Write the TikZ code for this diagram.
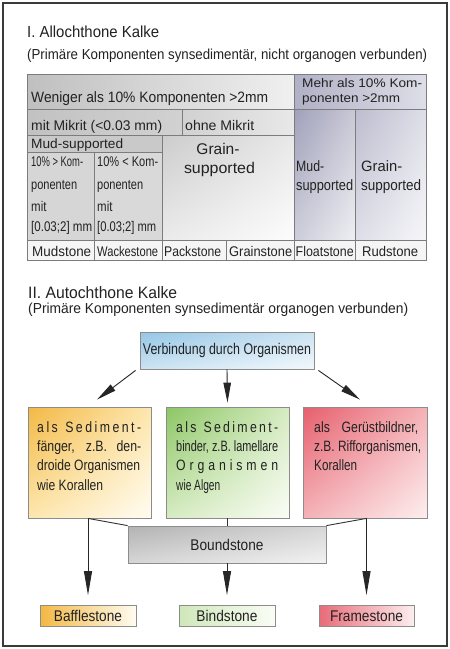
\documentclass[tikz,border=0pt]{standalone}
\usepackage{fontspec}
\setmainfont{Liberation Sans}
\newfontfamily\nar[FakeStretch=0.82]{Liberation Sans}
\usetikzlibrary{arrows.meta,shadings}
\definecolor{txtc}{HTML}{222222}
\definecolor{gridc}{HTML}{7C7C7C}
\definecolor{frm}{HTML}{3A3A3A}
\definecolor{bord}{HTML}{8C8C8C}
\definecolor{orA}{HTML}{F3B844}
\definecolor{orB}{HTML}{FDE7AE}
\definecolor{orC}{HTML}{FFFCF2}
\definecolor{grA}{HTML}{8CC664}
\definecolor{grB}{HTML}{D6EBC2}
\definecolor{grC}{HTML}{FAFDF6}
\definecolor{rdA}{HTML}{E65F6D}
\definecolor{rdB}{HTML}{F4B2B7}
\definecolor{rdC}{HTML}{FDEEEF}
\definecolor{blA}{HTML}{94C6E6}
\definecolor{blB}{HTML}{CCE3F2}
\definecolor{blC}{HTML}{F2F8FC}
\newcommand\fs[1]{\fontsize{#1pt}{#1pt}\selectfont}
\newcommand\fw[2]{\resizebox{#1pt}{\height}{#2}}
\newcommand\js[2]{\makebox[#1pt][s]{#2}}
\begin{document}
\begin{tikzpicture}[x=1pt,y=-1pt,
  txt/.style={inner sep=0pt, anchor=base west, text=txtc},
  ctxt/.style={inner sep=0pt, anchor=base, text=txtc},
  gline/.style={draw=gridc, line width=0.8pt},
  box/.style={draw=bord, line width=0.8pt, inner sep=0pt, text=txtc},
  arr/.style={draw=black!85, line width=0.9pt, -{Triangle[length=20pt,width=7.5pt]}},
  arrl/.style={draw=black!85, line width=0.9pt, -{Triangle[length=24pt,width=8pt]}},
  con/.style={draw=black!80, line width=0.9pt}]
\useasboundingbox (0,0) rectangle (450,649);
\fill[white] (0,0) rectangle (450,649);
\draw[frm, line width=2.5pt] (3,3) rectangle (447,646);

% ---------- Part I ----------
\node[txt] (h1) at (27,37.3) {\fs{16}\fw{132}{I. Allochthone Kalke}};
\node[txt] (s1) at (27,59.5) {\fs{14.5}\fw{400}{(Primäre Komponenten synsedimentär, nicht organogen verbunden)}};

% cell fills
\path[left color=black!25, right color=black!6] (27,74) rectangle (294,109);
\path[left color={rgb,255:red,176;green,176;blue,198}, right color={rgb,255:red,222;green,222;blue,232}] (294,74) rectangle (426,109);
\path[left color=black!24, right color=black!18] (27,109) rectangle (182,135);
\path[left color=black!18, right color=black!9] (182,109) rectangle (294,135);
\path[fill=black!21] (27,135) rectangle (162,152);
\path[fill=black!16] (27,152) rectangle (94,240);
\path[fill=black!15] (94,152) rectangle (162,240);
\path[upper left=black!20, upper right=black!9, lower left=black!8, lower right=black!1] (162,135) rectangle (294,240);
\path[upper left={rgb,255:red,160;green,160;blue,186}, upper right={rgb,255:red,200;green,200;blue,214}, lower left={rgb,255:red,205;green,205;blue,218}, lower right={rgb,255:red,238;green,238;blue,243}] (294,109) rectangle (355,240);
\path[upper left={rgb,255:red,188;green,188;blue,206}, upper right={rgb,255:red,222;green,222;blue,232}, lower left={rgb,255:red,222;green,222;blue,232}, lower right={rgb,255:red,246;green,246;blue,249}] (355,109) rectangle (426,240);
\path[fill=black!4] (27,240) rectangle (426,260);

% grid
\draw[gline] (27,74) rectangle (426,260);
\draw[gline] (27,109) -- (426,109);
\draw[gline] (27,135) -- (294,135);
\draw[gline] (27,152) -- (162,152);
\draw[gline] (27,240) -- (426,240);
\draw[gline] (294,74) -- (294,260);
\draw[gline] (355,109) -- (355,260);
\draw[gline] (182,109) -- (182,135);
\draw[gline] (162,135) -- (162,260);
\draw[gline] (94,152) -- (94,260);
\draw[gline] (226,240) -- (226,260);

% cell texts
\node[txt] (c1) at (31,102.7) {\fs{15}\fw{237}{Weniger als 10\% Komponenten >2mm}};
\node[txt] (c2a) at (302,87) {\fs{12.5}\fw{120}{Mehr als 10\% Kom-}};
\node[txt] (c2b) at (302,102) {\fs{12.5}\fw{98}{ponenten >2mm}};
\node[txt] (c3) at (31,130.7) {\fs{14}\fw{131}{mit Mikrit (<0.03 mm)}};
\node[txt] (c4) at (185,130.5) {\fs{14}\fw{69}{ohne Mikrit}};
\node[txt] (c5) at (31,148.3) {\fs{13.5}\fw{92}{Mud-supported}};
\node[txt] (c6a) at (31,166) {\fs{14}\fw{52}{10\% > Kom-}};
\node[txt] (c6b) at (31,189) {\fs{14}\fw{46}{ponenten}};
\node[txt] (c6c) at (31,211) {\fs{14}\nar mit};
\node[txt] (c6d) at (31,231) {\fs{14}\fw{61}{[0.03;2] mm}};
\node[txt] (c7a) at (97,166) {\fs{14}\fw{61}{10\% < Kom-}};
\node[txt] (c7b) at (97,189) {\fs{14}\fw{46}{ponenten}};
\node[txt] (c7c) at (97,211) {\fs{14}\nar mit};
\node[txt] (c7d) at (97,231) {\fs{14}\fw{59}{[0.03;2] mm}};
\node[ctxt] (c8a) at (218,154) {\fs{15.5}Grain-};
\node[ctxt] (c8b) at (219.5,173) {\fs{15.5}\fw{71}{supported}};
\node[txt] (c9a) at (296,171.5) {\fs{15}\nar Mud-};
\node[txt] (c9b) at (296,190) {\fs{15}\fw{57}{supported}};
\node[txt] (c10a) at (361,171.5) {\fs{15}\fw{41}{Grain-}};
\node[txt] (c10b) at (361,190) {\fs{15}\fw{60}{supported}};
\node[txt] (r1) at (32,256.5) {\fs{14}\fw{59}{Mudstone}};
\node[txt] (r2) at (97,256.5) {\fs{14}\fw{61}{Wackestone}};
\node[txt] (r3) at (164,256.5) {\fs{14}\fw{57}{Packstone}};
\node[txt] (r4) at (229,256.5) {\fs{14}\fw{63}{Grainstone}};
\node[txt] (r5) at (295.5,256.5) {\fs{14}\fw{58}{Floatstone}};
\node[txt] (r6) at (362,256.5) {\fs{14}\fw{56}{Rudstone}};

% ---------- Part II ----------
\node[txt] (h2) at (28,298.3) {\fs{16.5}\fw{149}{II. Autochthone Kalke}};
\node[txt] (s2) at (28,313) {\fs{14.5}\fw{380}{(Primäre Komponenten synsedimentär organogen verbunden)}};

\node[box, minimum width=174pt, minimum height=37pt, upper left=blA, upper right=blB, lower left=blB, lower right=blC] (verb) at (227,350.5) {\fs{15.5}\fw{168}{Verbindung durch Organismen}};

\node[box, minimum width=123pt, minimum height=111pt, upper left=orA, upper right=orB, lower left=orB, lower right=orC] (sf) at (89.5,462.5) {};
\node[box, minimum width=123pt, minimum height=111pt, upper left=grA, upper right=grB, lower left=grB, lower right=grC] (sb) at (227.5,462.5) {};
\node[box, minimum width=124pt, minimum height=111pt, upper left=rdA, upper right=rdB, lower left=rdB, lower right=rdC] (gb) at (365,462.5) {};

% box texts
\node[txt] (a1) at (37,432.7) {\fs{15}\nar\js{104}{a\hfill l\hfill s\hfill\hfill\hfill S\hfill e\hfill d\hfill i\hfill m\hfill e\hfill n\hfill t\hfill -}};
\node[txt] (a2) at (37,451.7) {\fs{15}\nar\js{104}{fänger, z.B. den-}};
\node[txt] (a3) at (37,470.7) {\fs{15}\fw{103}{droide Organismen}};
\node[txt] (a4) at (37,490) {\fs{15}\fw{66}{wie Korallen}};
\node[txt] (b1) at (176,432.7) {\fs{15}\nar\js{102}{a\hfill l\hfill s\hfill\hfill\hfill S\hfill e\hfill d\hfill i\hfill m\hfill e\hfill n\hfill t\hfill -}};
\node[txt] (b2) at (176,451.7) {\fs{15}\fw{102}{binder, z.B. lamellare}};
\node[txt] (b3) at (176,470.7) {\fs{15}\nar\js{102}{O\hfill r\hfill g\hfill a\hfill n\hfill i\hfill s\hfill m\hfill e\hfill n}};
\node[txt] (b4) at (176,490) {\fs{15}\fw{44}{wie Algen}};
\node[txt] (d1) at (314,432.7) {\fs{15}\nar\js{104}{als Gerüstbildner,}};
\node[txt] (d2) at (314,451.7) {\fs{15}\fw{107}{z.B. Rifforganismen,}};
\node[txt] (d3) at (314,470.7) {\fs{15}\fw{43}{Korallen}};

\node[box, minimum width=198pt, minimum height=37pt, upper left=black!30, upper right=black!16, lower left=black!16, lower right=black!5] (bound) at (227,544.5) {\fs{15.5}\fw{73}{Boundstone}};

\node[box, minimum width=96pt, minimum height=21pt, left color=orA, right color=orC] (baf) at (88,616) {\fs{15.5}\fw{68}{Bafflestone}};
\node[box, minimum width=96pt, minimum height=21pt, left color=grB!90!grA, right color=grC] (bind) at (227,616) {\fs{15.5}\fw{61}{Bindstone}};
\node[box, minimum width=95pt, minimum height=21pt, left color=rdA!85!rdB, right color=rdC] (frame) at (366.5,616) {\fs{15.5}\fw{73}{Framestone}};

% connectors
\draw[arr] ([xshift=-4pt,yshift=-1pt]verb.south west) -- ([xshift=7.5pt,yshift=7pt]sf.north);
\draw[arr] (verb.south) -- ([yshift=4pt]sb.north);
\draw[arr] ([xshift=4pt,yshift=-1pt]verb.south east) -- ([xshift=-5pt,yshift=7pt]gb.north);

\draw[arrl] (sf.south -| baf.north) -- ([yshift=10pt]baf.north);
\draw[con] (sf.south -| baf.north) -- (bound.north west);
\draw[con] (sb.south -| bound.north) -- (bound.north);
\draw[arrl] (bound.south) -- ([yshift=10pt]bind.north);
\draw[arrl] (gb.south -| frame.north) -- ([yshift=10pt]frame.north);
\draw[con] (gb.south -| frame.north) -- (bound.north east);
\end{tikzpicture}
\end{document}
